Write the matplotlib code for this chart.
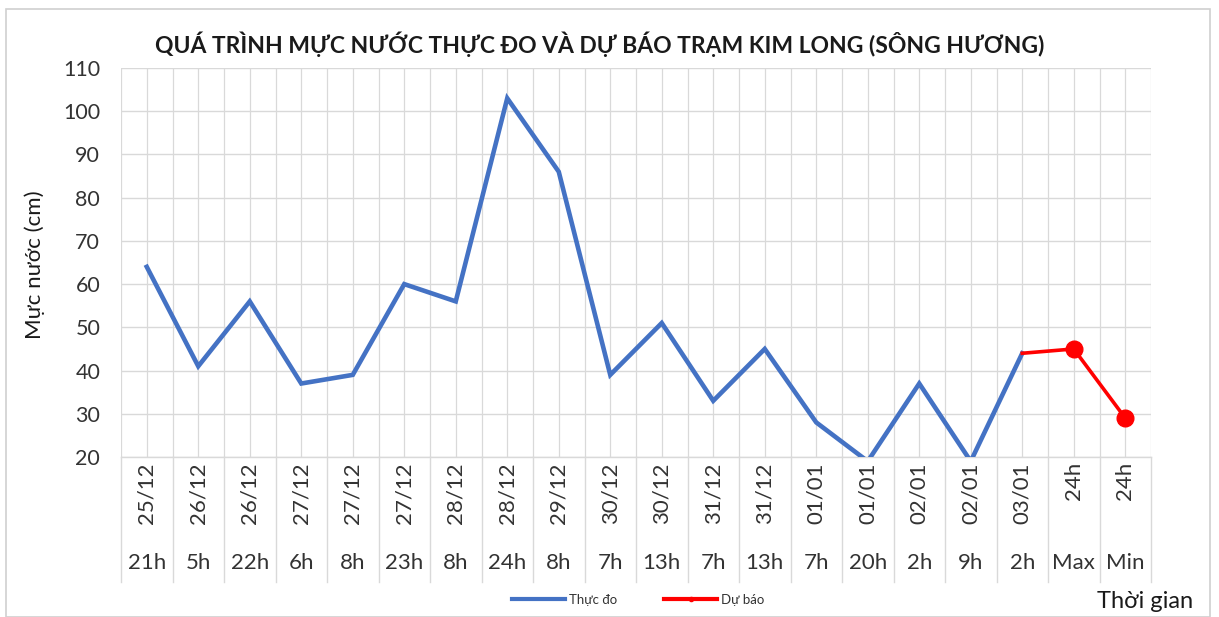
import matplotlib
matplotlib.use("Agg")
import matplotlib.pyplot as plt
from matplotlib.lines import Line2D
from matplotlib.patches import Rectangle
import matplotlib.transforms as mtransforms

plt.rcParams['font.family'] = ['Lato', 'DejaVu Sans']

dates = ["25/12", "26/12", "26/12", "27/12", "27/12", "27/12", "28/12", "28/12",
         "29/12", "30/12", "30/12", "31/12", "31/12", "01/01", "01/01", "02/01",
         "02/01", "03/01", "24h", "24h"]
hours = ["21h", "5h", "22h", "6h", "8h", "23h", "8h", "24h", "8h", "7h", "13h",
         "7h", "13h", "7h", "20h", "2h", "9h", "2h", "Max", "Min"]
observed = [64, 41, 56, 37, 39, 60, 56, 103, 86, 39, 51, 33, 45, 28, 19, 37, 19, 44]
forecast_idx = [17, 18, 19]
forecast = [44, 45, 29]

title = "QUÁ TRÌNH MỰC NƯỚC THỰC ĐO VÀ DỰ BÁO TRẠM KIM LONG (SÔNG HƯƠNG)"
blue = "#4472C4"
red = "#FF0000"
grid_c = "#D9D9D9"
text_c = "#333333"

fig = plt.figure(figsize=(12.19, 6.17), dpi=100)
ax = fig.add_axes([121/1219, 1 - 457/617, (1151 - 121)/1219, (457 - 68)/617])

n = len(dates)
ax.set_xlim(-0.5, n - 0.5)
ax.set_ylim(20, 110)
ax.set_yticks(range(20, 111, 10))

# gridlines: horizontal at every 10, vertical every half category
for y in range(20, 111, 10):
    ax.axhline(y, color=grid_c, lw=1, zorder=0)
for k in range(2 * n + 1):
    ax.axvline(-0.5 + k * 0.5, color=grid_c, lw=0.9, zorder=0)

ax.plot(range(len(observed)), observed, color=blue, lw=3.3, zorder=3,
        solid_joinstyle='miter', clip_on=True)
ax.plot(forecast_idx, forecast, color=red, lw=2.6, zorder=4,
        marker='o', markersize=12, markevery=[1, 2])

for s in ax.spines.values():
    s.set_visible(False)
ax.tick_params(axis='y', length=0, labelsize=15.5, labelcolor=text_c, pad=15)
ax.tick_params(axis='x', length=0, labelbottom=False)

# two-level category labels
trans = mtransforms.blended_transform_factory(ax.transData, ax.transAxes)
ax_h = (457 - 68)
def yfrac(py):
    return (457 - py) / ax_h

for i in range(n):
    ax.text(i, yfrac(462), dates[i], rotation=90, ha='center', va='top',
            fontsize=16, color=text_c, transform=trans, clip_on=False)
    ax.text(i, yfrac(563), hours[i], ha='center', va='center',
            fontsize=16, color=text_c, transform=trans, clip_on=False)
for k in range(n + 1):
    ax.plot([k - 0.5, k - 0.5], [0, yfrac(582)], color=grid_c, lw=1,
            transform=trans, clip_on=False)
ax.plot([-0.5, n - 0.5], [0, 0], color=grid_c, lw=1, transform=trans, clip_on=False)

fig.text(600/1219, 1 - 44/617, title, ha='center', va='center',
         fontsize=16.5, fontweight='bold', color='#1a1a1a')
fig.text(35/1219, 1 - 265/617, "Mực nước (cm)", rotation=90, ha='center',
         va='center', fontsize=16, color='#1a1a1a')
fig.text(1145/1219, 1 - 601/617, "Thời gian", ha='center', va='center',
         fontsize=17, color='#1a1a1a')

handles = [Line2D([], [], color=blue, lw=3),
           Line2D([], [], color=red, lw=3, marker='o', markersize=3)]
fig.legend(handles, ["Thực đo", "Dự báo"], loc='center',
           bbox_to_anchor=(638/1219, 1 - 600/617), ncol=2, frameon=False,
           fontsize=9.5, handlelength=4, columnspacing=3.6, handletextpad=0.3,
           labelcolor=text_c)

fig.patches.append(Rectangle((6/1219, 0), 1204/1219, 1 - 9/617,
                             transform=fig.transFigure, fill=False,
                             edgecolor='#D0D0D0', lw=1.2))

fig.savefig("out.png", dpi=100)
